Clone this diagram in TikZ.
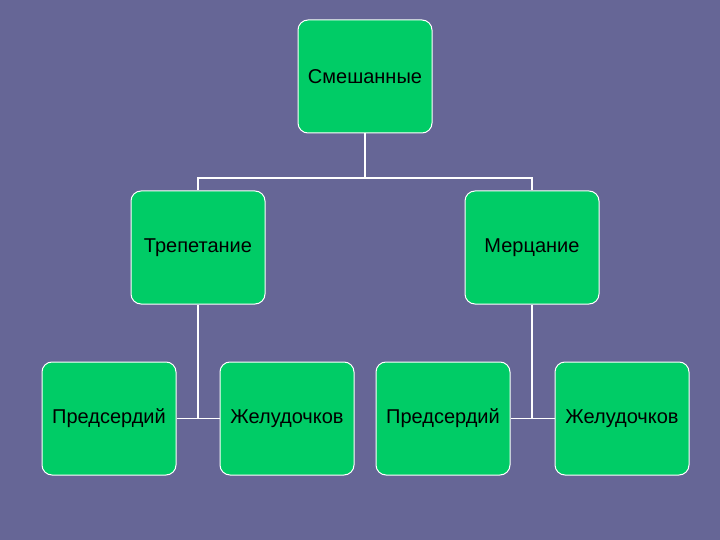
\documentclass[tikz,border=0pt]{standalone}
\usepackage{fontspec}
\setmainfont{Liberation Sans}
\definecolor{bg}{HTML}{666696}
\definecolor{boxg}{HTML}{00CC66}
\begin{document}
\begin{tikzpicture}[x=1pt,y=-1pt,
  box/.style={draw=white,line width=1pt,fill=boxg,rounded corners=10pt,minimum width=134pt,minimum height=113pt,inner sep=0pt,font=\fontsize{20}{24}\selectfont,text=black},
  conn/.style={draw=white,line width=1.5pt}]
\fill[bg] (0,0) rectangle (720,540);
\useasboundingbox (0,0) rectangle (720,540);
\node[box] (top) at (365,76.5) {Смешанные};
\node[box] (t) at (198,247.5) {Трепетание};
\node[box] (m) at (532,247.5) {Мерцание};
\node[box] (a1) at (109,418.5) {Предсердий};
\node[box] (a2) at (287,418.5) {Желудочков};
\node[box] (b1) at (443,418.5) {Предсердий};
\node[box] (b2) at (622,418.5) {Желудочков};
\coordinate (h) at (365,178);
\draw[conn] (top.south) -- (h);
\draw[conn] (t.north) |- (h) -| (m.north);
\coordinate (j1) at (198,418.5);
\coordinate (j2) at (532,418.5);
\draw[conn] (t.south) -- (j1);
\draw[conn] (a1.east) -- (a2.west);
\draw[conn] (m.south) -- (j2);
\draw[conn] (b1.east) -- (b2.west);
\end{tikzpicture}
\end{document}
